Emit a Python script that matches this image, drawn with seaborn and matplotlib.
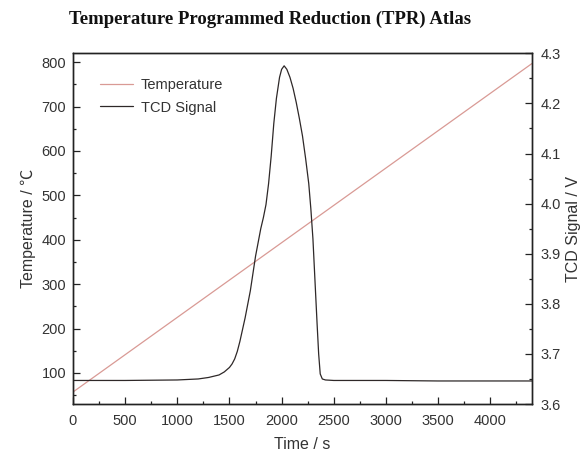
import matplotlib
matplotlib.use("Agg")
import matplotlib.pyplot as plt
from matplotlib.ticker import MultipleLocator, FormatStrFormatter
import pandas as pd
import seaborn as sns

# Furnace temperature ramp (linear, ~10 °C/min)
temp_time = [0, 4400]
temp_values = [57, 797]

# TCD detector response over the run
tcd_time = [0, 500, 1000, 1200, 1300, 1400, 1450, 1500, 1525, 1550, 1575,
            1600, 1650, 1700, 1750, 1800, 1825, 1850, 1875, 1900, 1925,
            1950, 1980, 2000, 2024, 2050, 2080, 2110, 2140, 2170, 2200,
            2230, 2260, 2280, 2300, 2320, 2340, 2355, 2370, 2390, 2420,
            2500, 3000, 3500, 4000, 4400]
tcd_signal = [3.647, 3.647, 3.648, 3.650, 3.653, 3.658, 3.664, 3.673, 3.680,
              3.690, 3.705, 3.725, 3.772, 3.826, 3.895, 3.950, 3.972, 3.998,
              4.040, 4.095, 4.160, 4.210, 4.252, 4.268, 4.275, 4.268, 4.252,
              4.230, 4.202, 4.170, 4.135, 4.090, 4.040, 3.990, 3.930, 3.845,
              3.760, 3.700, 3.660, 3.650, 3.648, 3.647, 3.647, 3.646, 3.646,
              3.646]

temp_df = pd.DataFrame({"Time": temp_time, "Temperature": temp_values})
tcd_df = pd.DataFrame({"Time": tcd_time, "Signal": tcd_signal})

sns.set_style("ticks")
plt.rcParams["font.family"] = ["Liberation Sans", "Noto Sans CJK SC", "DejaVu Sans"]
plt.rcParams["xtick.direction"] = "in"
plt.rcParams["ytick.direction"] = "in"

temp_color = "#d99a95"
tcd_color = "#2e2828"
text_color = "#333333"

fig = plt.figure(figsize=(5.83, 4.54), dpi=100)
ax = fig.add_axes([0.1252, 0.1101, 0.7873, 0.7725])
ax2 = ax.twinx()

sns.lineplot(data=temp_df, x="Time", y="Temperature", ax=ax,
             color=temp_color, lw=0.9, label="Temperature", legend=False)
sns.lineplot(data=tcd_df, x="Time", y="Signal", ax=ax2,
             color=tcd_color, lw=0.9, label="TCD Signal", legend=False)

ax.set_xlim(0, 4400)
ax.set_ylim(30, 820)
ax2.set_ylim(3.6, 4.3)

ax.xaxis.set_major_locator(MultipleLocator(500))
ax.xaxis.set_minor_locator(MultipleLocator(250))
ax.yaxis.set_major_locator(MultipleLocator(100))
ax.yaxis.set_minor_locator(MultipleLocator(50))
ax2.yaxis.set_major_locator(MultipleLocator(0.1))
ax2.yaxis.set_minor_locator(MultipleLocator(0.05))
ax2.yaxis.set_major_formatter(FormatStrFormatter("%.1f"))

for a in (ax, ax2):
    a.tick_params(which="major", length=5, width=0.9, labelsize=10.5,
                  colors="#222222", labelcolor=text_color, pad=5)
    a.tick_params(which="minor", length=2.5, width=0.9, colors="#222222")
    for s in a.spines.values():
        s.set_linewidth(1.0)
        s.set_color("#222222")
        s.set_visible(True)
ax.tick_params(axis="x", pad=7)
ax2.tick_params(axis="y", pad=6)
ax.tick_params(axis="y", which="both", right=False)
ax.tick_params(axis="x", which="both", top=False)
ax2.tick_params(axis="y", which="both", left=False)

ax.set_xlabel("Time / s", fontsize=11.5, labelpad=7, color=text_color)
ax.set_ylabel("Temperature / \u2103", fontsize=11.5, labelpad=4, color=text_color)
ax2.set_ylabel("TCD Signal / V", fontsize=11.5, labelpad=4, color=text_color)

h1, l1 = ax.get_legend_handles_labels()
h2, l2 = ax2.get_legend_handles_labels()
ax.legend(h1 + h2, l1 + l2, loc="upper left", frameon=False, fontsize=10.5,
          handlelength=2.3, handletextpad=0.5, borderaxespad=0.8,
          labelspacing=0.6, bbox_to_anchor=(0.02, 0.98),
          labelcolor=text_color)

fig.text(0.463, 0.958, "Temperature Programmed Reduction (TPR) Atlas",
         ha="center", va="center", fontsize=13.5, fontweight="bold",
         family="Liberation Serif", color="#111111")

fig.savefig("out.png", dpi=100, facecolor="white")
